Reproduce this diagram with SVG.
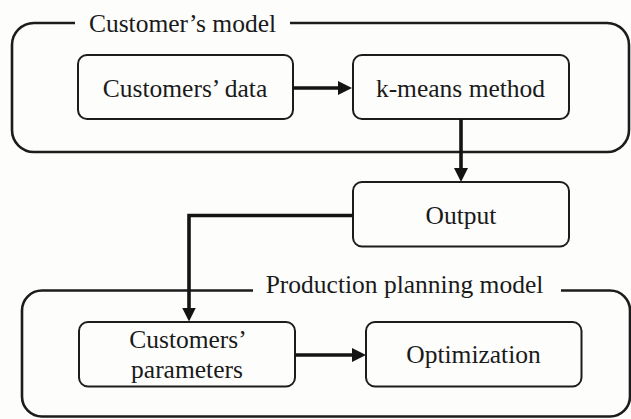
<svg xmlns="http://www.w3.org/2000/svg" width="631" height="419" viewBox="0 0 631 419">
  <defs>
    <style>
      .frame { fill: none; stroke: #1c1c1c; stroke-width: 2.6; stroke-linejoin: round; }
      .box { fill: #fdfdfc; stroke: #1c1c1c; stroke-width: 2; }
      .label { font-size: 25.5px; fill: #1a1a1a; text-anchor: middle; }
      .wire { fill: none; stroke: #141414; stroke-width: 3.6; stroke-linejoin: miter; }
    </style>
    <marker id="head" viewBox="0 0 14 14" refX="6" refY="7" markerWidth="14" markerHeight="14" markerUnits="userSpaceOnUse" orient="auto">
      <path d="M0,0 L14,7 L0,14 z" fill="#141414"/>
    </marker>
  </defs>

  <rect width="631" height="419" fill="#fdfdfc"/>

  <g font-family="'Liberation Serif', 'DejaVu Serif', serif">
    <!-- Customer's model frame, open at the top for its title -->
    <g id="customers-model">
      <path class="frame" d="M75,23 H34 A22,22 0 0 0 12,45 V130 A22,22 0 0 0 34,152 H607 A22,22 0 0 0 629,130 V45 A22,22 0 0 0 607,23 H290"/>
      <text class="label" x="182.5" y="32">Customer’s model</text>
    </g>

    <!-- Production planning model frame -->
    <g id="production-planning-model">
      <path class="frame" d="M253,290.5 H42 A20,20 0 0 0 22,310.5 V396.5 A20,20 0 0 0 42,416.5 H610 A20,20 0 0 0 630,396.5 V310.5 A20,20 0 0 0 610,290.5 H561"/>
      <text class="label" x="404.5" y="293">Production planning model</text>
    </g>

    <g id="customers-data">
      <rect class="box" x="78" y="55" width="215" height="64" rx="9"/>
      <text class="label" x="185" y="97">Customers’ data</text>
    </g>

    <g id="k-means-method">
      <rect class="box" x="353" y="55" width="216" height="64" rx="9"/>
      <text class="label" x="460.5" y="97">k-means method</text>
    </g>

    <g id="output">
      <rect class="box" x="353" y="182" width="216" height="64.5" rx="9"/>
      <text class="label" x="461" y="224">Output</text>
    </g>

    <g id="customers-parameters">
      <rect class="box" x="79" y="322" width="216" height="64.5" rx="9"/>
      <text class="label" x="188" y="348">Customers’</text>
      <text class="label" x="187" y="378">parameters</text>
    </g>

    <g id="optimization">
      <rect class="box" x="366" y="322" width="215.5" height="64.5" rx="9"/>
      <text class="label" x="473.5" y="363">Optimization</text>
    </g>
  </g>

  <!-- connectors -->
  <g id="connectors">
    <path class="wire" d="M293,88 H344" marker-end="url(#head)"/>
    <path class="wire" d="M461,119 V174" marker-end="url(#head)"/>
    <path class="wire" d="M353,215.5 H189 V313.5" marker-end="url(#head)"/>
    <path class="wire" d="M295,355 H358" marker-end="url(#head)"/>
  </g>
</svg>
